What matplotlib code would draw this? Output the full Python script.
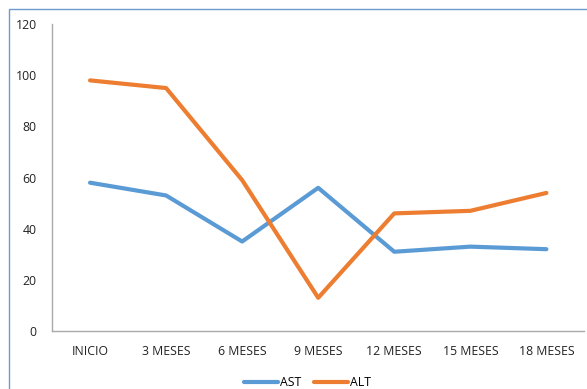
import matplotlib.pyplot as plt
from matplotlib.patches import Rectangle

categories = ["INICIO", "3 MESES", "6 MESES", "9 MESES", "12 MESES", "15 MESES", "18 MESES"]
ast = [58, 53, 35, 56, 31, 33, 32]
alt = [98, 95, 59, 13, 46, 47, 54]

plt.rcParams['font.family'] = ['Open Sans', 'DejaVu Sans']

fig = plt.figure(figsize=(5.87, 3.89), dpi=100)
ax = fig.add_axes([0.0886, 0.149, 0.907, 0.789])

x = range(len(categories))
ax.plot(x, ast, color='#5B9BD5', lw=3, solid_capstyle='round', label='AST')
ax.plot(x, alt, color='#ED7D31', lw=3, solid_capstyle='round', label='ALT')

ax.set_xlim(-0.5, len(categories) - 0.5)
ax.set_ylim(0, 120)
ax.set_yticks(range(0, 121, 20))
ax.set_xticks(list(x))
ax.set_xticklabels(categories)
ax.tick_params(length=0, labelsize=8.8, colors='#222222', pad=10)
ax.tick_params(axis='y', pad=11)
for s in ['top', 'right']:
    ax.spines[s].set_visible(False)
for s in ['left', 'bottom']:
    ax.spines[s].set_color('#aaaaaa')
    ax.spines[s].set_linewidth(1)

ax.legend(loc='center', bbox_to_anchor=(0.48, -0.168), ncol=2, frameon=False,
          fontsize=8.8, handlelength=2.8, handletextpad=0.2, columnspacing=1.0)

fig.patches.append(Rectangle((9 / 587, -0.1), 1.2, 1 - 9 / 389 + 0.1, transform=fig.transFigure,
                             fill=False, edgecolor='#6d9bd1', lw=1))

fig.savefig('out.png', dpi=100)
